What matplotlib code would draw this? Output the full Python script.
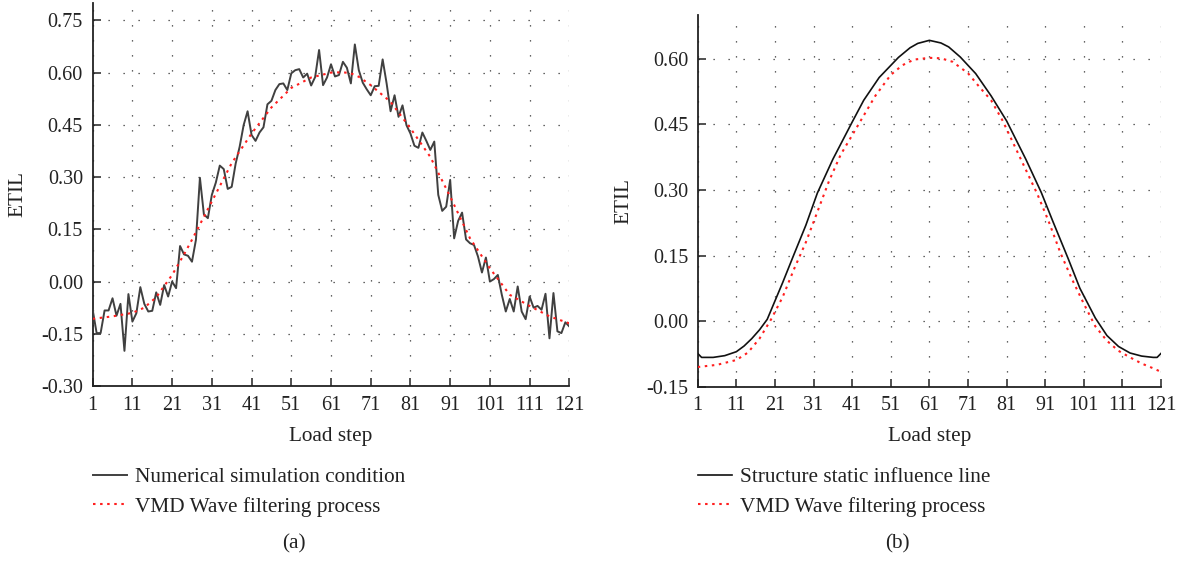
import numpy as np
import matplotlib
matplotlib.use("Agg")
import matplotlib.pyplot as plt

plt.rcParams['font.family'] = ['Liberation Serif', 'DejaVu Serif']
plt.rcParams['font.size'] = 15.3

# Load steps and tick labels
steps = np.arange(1, 122)
xticks = [1, 11, 21, 31, 41, 51, 61, 71, 81, 91, 101, 111, 121]

# (a) numerical simulation condition, one value per load step
simulated = [
    -0.081, -0.148, -0.148, -0.083, -0.083, -0.048, -0.098, -0.064, -0.199, -0.036,
    -0.115, -0.091, -0.016, -0.064, -0.086, -0.084, -0.031, -0.067, -0.010, -0.043,
    0.000, -0.019, 0.102, 0.078, 0.074, 0.057, 0.120, 0.298, 0.193, 0.182,
    0.249, 0.284, 0.333, 0.323, 0.266, 0.272, 0.339, 0.387, 0.449, 0.489,
    0.421, 0.404, 0.428, 0.443, 0.509, 0.519, 0.550, 0.567, 0.569, 0.550,
    0.598, 0.607, 0.610, 0.586, 0.597, 0.563, 0.587, 0.665, 0.564, 0.586,
    0.624, 0.589, 0.593, 0.631, 0.614, 0.569, 0.681, 0.607, 0.571, 0.552,
    0.535, 0.561, 0.562, 0.638, 0.569, 0.489, 0.535, 0.473, 0.506, 0.449,
    0.425, 0.390, 0.384, 0.428, 0.404, 0.378, 0.402, 0.249, 0.203, 0.215,
    0.292, 0.124, 0.174, 0.198, 0.121, 0.110, 0.105, 0.072, 0.026, 0.069,
    0.000, 0.007, 0.019, -0.038, -0.086, -0.050, -0.086, -0.014, -0.086, -0.108,
    -0.043, -0.075, -0.070, -0.081, -0.035, -0.163, -0.033, -0.143, -0.148, -0.117,
    -0.129,
]

# (a) VMD filtered curve
vmd_a_steps = [1, 6, 11, 14, 17, 21, 24, 26, 31, 36, 41, 46, 51, 56, 61, 64, 66,
               68, 71, 76, 81, 86, 91, 96, 101, 106, 111, 116, 121]
vmd_a = [-0.107, -0.100, -0.090, -0.075, -0.045, 0.019, 0.078, 0.120, 0.230,
         0.340, 0.425, 0.500, 0.556, 0.586, 0.600, 0.601, 0.598, 0.588, 0.564,
         0.516, 0.440, 0.358, 0.244, 0.124, 0.038, -0.038, -0.070, -0.100, -0.120]

# (b) structure static influence line
static_steps = [1, 2, 5, 8, 11, 13, 15, 17, 19, 21, 23, 26, 29, 32, 36, 41, 44,
                48, 53, 56, 58, 61, 64, 66, 69, 73, 77, 81, 86, 90, 93, 97, 100,
                104, 107, 110, 113, 116, 119, 120, 121]
static_line = [-0.074, -0.083, -0.083, -0.079, -0.070, -0.057, -0.040, -0.020,
               0.004, 0.046, 0.088, 0.154, 0.219, 0.293, 0.370, 0.455, 0.505,
               0.557, 0.603, 0.625, 0.635, 0.642, 0.636, 0.627, 0.604, 0.566,
               0.515, 0.458, 0.370, 0.294, 0.228, 0.142, 0.075, 0.007, -0.033,
               -0.058, -0.073, -0.080, -0.083, -0.083, -0.074]

# (b) VMD filtered curve
vmd_b_steps = [1, 6, 11, 14, 17, 20, 23, 26, 29, 32, 35, 38, 41, 44, 47, 51, 54,
               57, 61, 64, 67, 71, 74, 77, 80, 83, 86, 89, 92, 95, 98, 101, 104,
               107, 110, 113, 116, 119, 121]
vmd_b = [-0.105, -0.100, -0.089, -0.072, -0.040, 0.004, 0.055, 0.120, 0.180,
         0.250, 0.320, 0.380, 0.425, 0.470, 0.515, 0.563, 0.585, 0.598, 0.602,
         0.601, 0.593, 0.567, 0.535, 0.505, 0.458, 0.402, 0.346, 0.290, 0.226,
         0.155, 0.095, 0.040, -0.012, -0.045, -0.068, -0.083, -0.097, -0.108,
         -0.116]

fig = plt.figure(figsize=(11.79, 5.61), dpi=100)
ax1 = fig.add_axes([0.0786, 0.3119, 0.4043, 0.6828])
ax2 = fig.add_axes([0.5918, 0.3107, 0.3929, 0.6626])

red = '#ff1f1f'
ink = '#222222'
grid_kw = dict(color='#333333', linestyle=(0, (1, 11)), linewidth=0.9)


def style(ax, ylim, yticks):
    ax.set_xlim(1, 121)
    ax.set_ylim(*ylim)
    ax.set_xticks(xticks)
    ax.set_yticks(yticks)
    ax.set_yticklabels([f"{v:.2f}" for v in yticks])
    for side in ('top', 'right'):
        ax.spines[side].set_visible(False)
    for side in ('left', 'bottom'):
        ax.spines[side].set_linewidth(1.3)
        ax.spines[side].set_color(ink)
    ax.tick_params(direction='in', length=5.5, width=1.1, color=ink,
                   labelcolor=ink, labelsize=14.5)
    ax.tick_params(axis='y', pad=7)
    ax.tick_params(axis='x', pad=7)
    ax.grid(True, **grid_kw)
    ax.set_axisbelow(True)
    ax.set_ylabel('ETIL', color=ink, va='center')
    ax.set_xlabel('Load step', color=ink, va='center')


style(ax1, (-0.30, 0.80), [-0.30, -0.15, 0.00, 0.15, 0.30, 0.45, 0.60, 0.75])
style(ax2, (-0.15, 0.70), [-0.15, 0.00, 0.15, 0.30, 0.45, 0.60])

ax1.plot(steps, simulated, color='#404040', linewidth=1.4,
         label='Numerical simulation condition', zorder=3)
ax1.plot(vmd_a_steps, vmd_a, color=red, linewidth=1.5, linestyle=(0, (1.2, 2.2)),
         label='VMD Wave filtering process', zorder=4)

ax2.plot(static_steps, static_line, color='#111111', linewidth=1.2,
         label='Structure static influence line', zorder=3)
ax2.plot(vmd_b_steps, vmd_b, color=red, linewidth=1.5, linestyle=(0, (1.2, 2.2)),
         label='VMD Wave filtering process', zorder=4)

ax1.xaxis.set_label_coords(0.5, -0.133)
ax2.xaxis.set_label_coords(0.5, -0.135)
ax1.yaxis.set_label_coords(-0.157, 0.5)
ax2.yaxis.set_label_coords(-0.159, 0.5)

for ax, x0, tag, tx in ((ax1, 0.0786, '(a)', 0.249), (ax2, 0.5918, '(b)', 0.761)):
    h, l = ax.get_legend_handles_labels()
    leg = fig.legend(h, l, loc='center left', bbox_to_anchor=(x0, 0.123),
                     frameon=False, borderpad=0, borderaxespad=0,
                     handlelength=1.6, handletextpad=0.4, labelspacing=0.47)
    for t in leg.get_texts():
        t.set_color(ink)
    fig.text(tx, 0.030, tag, ha='center', va='center', color=ink)

fig.savefig('out.png', dpi=100)
